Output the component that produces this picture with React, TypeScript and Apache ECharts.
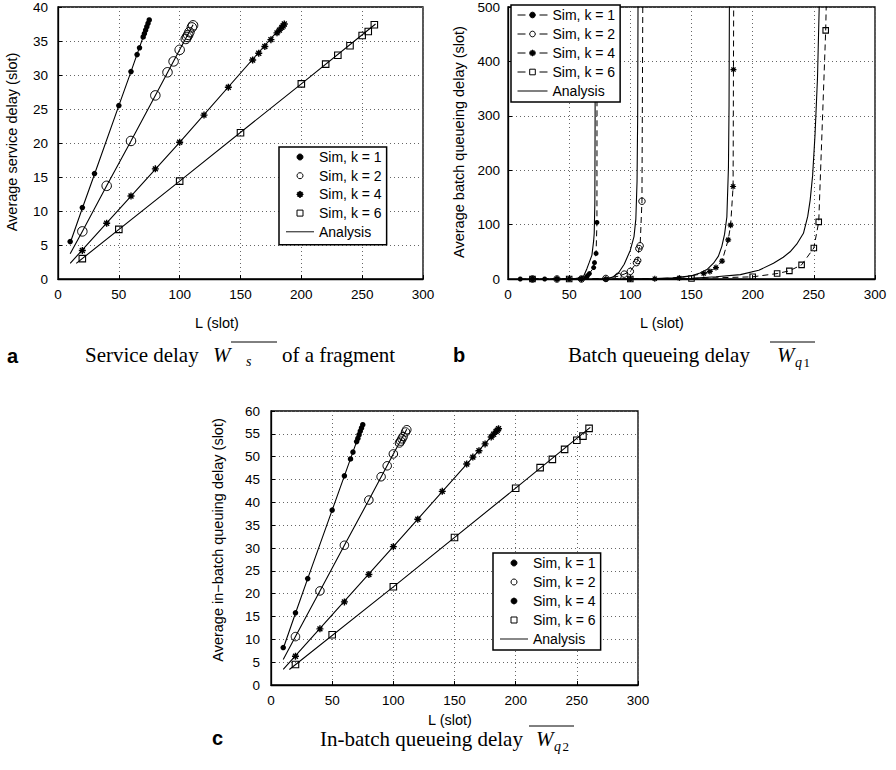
import React, { useEffect, useRef } from 'react';
import * as echarts from 'echarts';

const SANS = '"Liberation Sans", Arial, sans-serif';
const SERIF = '"Liberation Serif", "Times New Roman", serif';
// asterisk marker
const STAR =
  'path://M-1,-5L1,-5L1,5L-1,5Z M-5,-1L5,-1L5,1L-5,1Z M-2.79,-4.21L4.21,2.79L2.79,4.21L-4.21,-2.79Z M-4.21,2.79L2.79,-4.21L4.21,-2.79L-2.79,4.21Z';
const SQUARE_ICON = 'path://M0,0L10,0L10,10L0,10Z';
const LINE_ICON = 'path://M0,0L30,0L30,1L0,1Z';

// ---------- ticks ----------
const xTicks = [0, 50, 100, 150, 200, 250, 300];
const aYTicks = [0, 5, 10, 15, 20, 25, 30, 35, 40];
const bYTicks = [0, 100, 200, 300, 400, 500];
const cYTicks = [0, 5, 10, 15, 20, 25, 30, 35, 40, 45, 50, 55, 60];

const legendLabels = ['Sim, k = 1', 'Sim, k = 2', 'Sim, k = 4', 'Sim, k = 6', 'Analysis'];

// ---------- panel a : service delay ----------
const aSimK1 = [[10, 5.5], [20, 10.5], [30, 15.5], [50, 25.5], [60, 30.5], [65, 33], [67, 34], [70, 35.6], [71, 36.1], [72, 36.6], [73, 37.1], [74, 37.6], [75, 38.1]];
const aSimK2 = [[20, 7], [40, 13.7], [60, 20.3], [80, 27], [90, 30.4], [95, 32], [100, 33.7], [105, 35.3], [106, 35.6], [107, 35.9], [108, 36.3], [110, 37], [111, 37.3]];
const aSimK4 = [[20, 4.2], [40, 8.2], [60, 12.2], [80, 16.2], [100, 20.1], [120, 24.1], [140, 28.2], [160, 32.2], [165, 33.2], [170, 34.2], [175, 35.2], [180, 36.2], [182, 36.6], [184, 37], [185, 37.2], [186, 37.5]];
const aSimK6 = [[20, 3], [50, 7.3], [100, 14.4], [150, 21.5], [200, 28.7], [220, 31.6], [230, 32.9], [240, 34.3], [250, 35.8], [255, 36.4], [260, 37.4]];
const aAnaK1 = [[10, 5.3], [20, 10.4], [30, 15.4], [50, 25.5], [60, 30.5], [70, 35.6], [75, 38.1]];
const aAnaK2 = [[10, 3.7], [20, 7], [40, 13.7], [60, 20.3], [80, 27], [100, 33.7], [111, 37.4]];
const aAnaK4 = [[10, 2.3], [100, 20.1], [186, 37.6]];
const aAnaK6 = [[15, 2.3], [100, 14.4], [200, 28.7], [261, 37.5]];

// ---------- panel b : batch queueing delay ----------
const bSimK1 = [[10, 0], [20, 0], [30, 0], [40, 0], [50, 0], [60, 0.5], [64, 3], [65, 6], [66.5, 10], [70, 21], [70.7, 30], [72, 47], [72.7, 104], [72.8, 520]];
const bSimK2 = [[20, 0], [40, 0], [60, 0], [80, 1], [90, 5], [95, 9], [100, 14], [105, 30], [106, 34], [107, 56], [108, 61], [109.5, 143], [110.2, 520]];
const bSimK4 = [[20, 0], [40, 0], [60, 0], [80, 0], [100, 0], [120, 0.5], [140, 2], [160, 10], [165, 14], [170, 21], [175, 33], [180, 72], [182, 99], [184, 170], [184.3, 385], [184.5, 520]];
const bSimK6 = [[20, 0], [50, 0], [100, 0], [150, 1], [200, 4], [220, 10], [230, 15], [240, 26], [250, 57], [254, 105], [259.7, 457], [260.3, 520]];
const bAnaK1 = [[50, 0.3], [55, 0.8], [60, 2.5], [62, 6], [64.5, 19], [66.5, 31], [68.6, 44], [70, 70], [70.5, 85], [71, 140], [71.2, 300], [71.3, 520]];
const bAnaK2 = [[70, 0], [80, 0.5], [85, 3], [90, 10], [95, 27], [100, 53], [103, 78], [104.5, 110], [105.5, 180], [106, 300], [106.3, 520]];
const bAnaK4 = [[100, 0.3], [120, 0.8], [135, 2], [150, 6], [157, 11], [163, 18], [168, 29], [172, 42], [174.8, 60], [177, 82], [178.9, 114], [180.2, 205], [180.7, 320], [181, 520]];
const bAnaK6 = [[120, 0.5], [150, 1.5], [170, 4], [190, 8], [205, 16], [217, 29], [225, 40], [230.6, 50], [236, 64], [241.5, 84], [245, 115], [247, 145], [249, 190], [251, 266], [253, 370], [254.6, 520]];

// ---------- panel c : in-batch queueing delay ----------
const cSimK1 = [[10, 8.2], [20, 15.8], [30, 23.3], [50, 38.3], [60, 45.8], [65, 49.5], [67, 51], [70, 53.3], [71, 54], [72, 54.8], [73, 55.6], [74, 56.3], [75, 57]];
const cSimK2 = [[20, 10.6], [40, 20.6], [60, 30.6], [80, 40.5], [90, 45.6], [95, 48], [100, 50.6], [105, 53], [106, 53.4], [107, 53.9], [108, 54.4], [110, 55.4], [111, 55.9]];
const cSimK4 = [[20, 6.3], [40, 12.3], [60, 18.2], [80, 24.2], [100, 30.3], [120, 36.3], [140, 42.4], [160, 48.4], [165, 49.9], [170, 51.3], [175, 52.8], [180, 54.3], [182, 54.9], [184, 55.5], [185, 55.8], [186, 56.1]];
const cSimK6 = [[20, 4.5], [50, 11], [100, 21.5], [150, 32.3], [200, 43.1], [220, 47.6], [230, 49.4], [240, 51.6], [250, 53.6], [255, 54.5], [260, 56.2]];
const cAnaK1 = [[10, 8], [20, 15.7], [30, 23.3], [50, 38.3], [60, 45.8], [70, 53.3], [75, 57]];
const cAnaK2 = [[10, 5.6], [20, 10.6], [40, 20.6], [60, 30.6], [80, 40.5], [100, 50.6], [111, 56]];
const cAnaK4 = [[10, 3.4], [100, 30.3], [186, 56.2]];
const cAnaK6 = [[15, 3.4], [100, 21.5], [200, 43.1], [261, 56.4]];

const EMPTY = 'rgba(0,0,0,0)';
const markerShapes = [
  { symbol: 'circle', fill: '#000', bw: 0 },
  { symbol: 'circle', fill: EMPTY, bw: 1 },
  { symbol: STAR, fill: '#000', bw: 0 },
  { symbol: 'rect', fill: EMPTY, bw: 1.1 },
];

function axisPair(i: number, yTicks: number[], labelMargin: number) {
  const x = {
    type: 'value', gridIndex: i,
    min: xTicks[0], max: xTicks[xTicks.length - 1], interval: xTicks[1] - xTicks[0],
    axisLine: { show: true, onZero: false, lineStyle: { color: '#000', width: 1.3 } },
    axisTick: { show: true, inside: true, length: 4, lineStyle: { color: '#000', width: 1 } },
    axisLabel: { color: '#000', fontSize: 13.5, fontFamily: SANS, margin: 8 },
    splitLine: { show: true, lineStyle: { color: '#666', width: 1, type: [1, 3] } },
  };
  const y = {
    type: 'value', gridIndex: i,
    min: yTicks[0], max: yTicks[yTicks.length - 1], interval: yTicks[1] - yTicks[0],
    axisLine: { show: true, onZero: false, lineStyle: { color: '#000', width: 1.3 } },
    axisTick: { show: true, inside: true, length: 4, lineStyle: { color: '#000', width: 1 } },
    axisLabel: { color: '#000', fontSize: 13.5, fontFamily: SANS, margin: labelMargin },
    splitLine: { show: true, lineStyle: { color: '#666', width: 1, type: [1, 3] } },
  };
  return { x, y };
}

function simScatter(prefix: string, i: number, k: number, data: number[][], size: number) {
  const m = markerShapes[k];
  return {
    type: 'scatter', name: prefix + legendLabels[k], xAxisIndex: i, yAxisIndex: i, data,
    symbol: m.symbol, symbolSize: size, silent: true, z: 5,
    itemStyle: { color: m.fill, borderColor: '#000', borderWidth: m.bw, opacity: 1 },
  };
}

function simDashed(prefix: string, i: number, k: number, data: number[][], size: number) {
  const m = markerShapes[k];
  return {
    type: 'line', name: prefix + legendLabels[k], xAxisIndex: i, yAxisIndex: i, data,
    symbol: m.symbol, symbolSize: size, showSymbol: true, showAllSymbol: true, silent: true, z: 5, clip: true,
    lineStyle: { color: '#000', width: 1, type: [6, 4] },
    itemStyle: { color: m.fill, borderColor: '#000', borderWidth: m.bw, opacity: 1 },
  };
}

function analysis(prefix: string, i: number, data: number[][]) {
  return {
    type: 'line', name: prefix + 'Analysis', xAxisIndex: i, yAxisIndex: i, data,
    symbol: 'none', showSymbol: false, silent: true, z: 3, clip: true,
    lineStyle: { color: '#000', width: 1.1 },
    itemStyle: { color: '#000' },
  };
}

function legendFor(prefix: string, left: number, top: number, itemWidth: number, itemGap: number, padding: number[], extra: any = {}) {
  const data = legendLabels.map((l, k) => {
    const name = prefix + l;
    if (k === 4) return { name, icon: LINE_ICON, itemStyle: { color: '#000', borderWidth: 0 } };
    if (k === 3 && prefix !== 'b:') return { name, icon: SQUARE_ICON };
    return name;
  });
  return {
    show: true, orient: 'vertical', left, top, itemWidth, itemHeight: 6, itemGap, padding,
    borderColor: '#000', borderWidth: 1.5, backgroundColor: '#fff', z: 10,
    selectedMode: false,
    itemStyle: { borderWidth: 1 },
    lineStyle: { width: 1 },
    textStyle: { color: '#000', fontSize: 14, fontFamily: SANS, lineHeight: 14 },
    formatter: (n: string) => n.slice(2),
    data,
    ...extra,
  };
}

function txt(text: string, x: number, y: number, o: any = {}) {
  return {
    type: 'text', x, y, silent: true, rotation: o.rotation || 0,
    style: {
      text, fill: '#000',
      fontSize: o.fontSize || 14.5, fontFamily: o.fontFamily || SANS,
      fontStyle: o.fontStyle || 'normal', fontWeight: o.fontWeight || 'normal',
      align: o.align || 'left', verticalAlign: 'middle',
    },
  };
}
function overline(x1: number, x2: number, y: number) {
  return { type: 'line', silent: true, shape: { x1, y1: y, x2, y2: y }, style: { stroke: '#000', lineWidth: 1 } };
}
// serif text placed by baseline
function serif(text: string, x: number, base: number, fs: number, italic = false) {
  return txt(text, x, base - 0.3375 * fs, { fontSize: fs, fontFamily: SERIF, fontStyle: italic ? 'italic' : 'normal' });
}
function letter(text: string, x: number, base: number) {
  return txt(text, x, base - 0.3465 * 20, { fontSize: 20, fontWeight: 'bold' });
}

function buildOption() {
  const grids = [
    { left: 58, top: 5, width: 365, height: 274 },
    { left: 508, top: 5, width: 367, height: 274 },
    { left: 271, top: 411, width: 367, height: 274 },
  ].map((g) => ({ ...g, show: true, borderColor: '#000', borderWidth: 1.3, backgroundColor: EMPTY }));

  const pa = axisPair(0, aYTicks, 10);
  const pb = axisPair(1, bYTicks, 8);
  const pc = axisPair(2, cYTicks, 11);

  const aSizes = [5.5, 9.5, 7, 6.5];
  const bSizes = [5, 6.5, 6, 5.5];
  const cSizes = [5.5, 8.5, 7, 6.5];

  const series: any[] = [
    analysis('a:', 0, aAnaK1), analysis('a:', 0, aAnaK2), analysis('a:', 0, aAnaK4), analysis('a:', 0, aAnaK6),
    simScatter('a:', 0, 0, aSimK1, aSizes[0]), simScatter('a:', 0, 1, aSimK2, aSizes[1]),
    simScatter('a:', 0, 2, aSimK4, aSizes[2]), simScatter('a:', 0, 3, aSimK6, aSizes[3]),

    analysis('b:', 1, bAnaK1), analysis('b:', 1, bAnaK2), analysis('b:', 1, bAnaK4), analysis('b:', 1, bAnaK6),
    simDashed('b:', 1, 0, bSimK1, bSizes[0]), simDashed('b:', 1, 1, bSimK2, bSizes[1]),
    simDashed('b:', 1, 2, bSimK4, bSizes[2]), simDashed('b:', 1, 3, bSimK6, bSizes[3]),

    analysis('c:', 2, cAnaK1), analysis('c:', 2, cAnaK2), analysis('c:', 2, cAnaK4), analysis('c:', 2, cAnaK6),
    simScatter('c:', 2, 0, cSimK1, cSizes[0]), simScatter('c:', 2, 1, cSimK2, cSizes[1]),
    simScatter('c:', 2, 2, cSimK4, cSizes[2]), simScatter('c:', 2, 3, cSimK6, cSizes[3]),
  ];

  const legends = [
    legendFor('a:', 279, 147, 28, 4.7, [3, 5, 6, 7]),
    legendFor('b:', 511, 5, 30, 5, [3, 5, 4, 6], { itemHeight: 7, lineStyle: { type: [8, 14], width: 1 } }),
    legendFor('c:', 493, 553, 28, 5, [3, 5, 4, 7]),
  ];

  const CF = 21; // caption font size
  const graphic = [
    // axis names
    txt('Average service delay (slot)', 12, 142, { rotation: Math.PI / 2, align: 'center' }),
    txt('Average batch queueing delay (slot)', 459, 142, { rotation: Math.PI / 2, align: 'center' }),
    txt('Average in\u2212batch queuing delay (slot)', 218, 540, { rotation: Math.PI / 2, align: 'center' }),
    txt('L (slot)', 217, 323, { align: 'center' }),
    txt('L (slot)', 662, 323, { align: 'center' }),
    txt('L (slot)', 450, 719.5, { align: 'center' }),
    // panel letters
    letter('a', 7, 363),
    letter('b', 453, 362),
    letter('c', 212, 745),
    // caption a
    serif('Service delay', 85, 362, CF),
    serif('W', 213, 362, CF, true),
    serif('s', 246, 366, 14, true),
    overline(231, 277, 342),
    serif('of a fragment', 282, 362, CF),
    // caption b
    serif('Batch queueing delay', 568, 362, CF),
    serif('W', 777, 362, CF, true),
    serif('q', 795, 367, 14, true),
    serif('1', 803.5, 367, 13),
    overline(770, 815, 342),
    // caption c
    serif('In-batch queueing delay', 320, 746, CF),
    serif('W', 536, 746, CF, true),
    serif('q', 554, 751, 14, true),
    serif('2', 562.5, 751, 13),
    overline(529, 574, 726),
  ];

  return {
    animation: false,
    backgroundColor: '#fff',
    grid: grids,
    xAxis: [pa.x, pb.x, pc.x],
    yAxis: [pa.y, pb.y, pc.y],
    legend: legends,
    series,
    graphic,
  };
}

export default function App() {
  const ref = useRef<HTMLDivElement>(null);
  useEffect(() => {
    const el = ref.current;
    if (!el) return;
    const chart = echarts.init(el, undefined, { renderer: 'svg' });
    chart.setOption(buildOption() as any);
    return () => chart.dispose();
  }, []);
  return (
    <div
      ref={ref}
      style={{ position: 'fixed', left: 0, top: 0, width: 896, height: 770, background: '#fff' }}
    />
  );
}
